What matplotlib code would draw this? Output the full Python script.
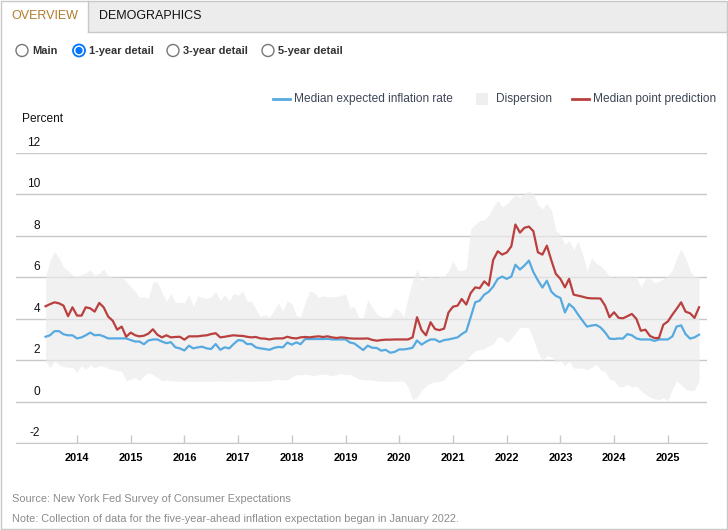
import matplotlib
matplotlib.use("Agg")
import matplotlib.pyplot as plt
from matplotlib.patches import Rectangle, Circle
from matplotlib.transforms import ScaledTranslation
import pandas as pd

plt.rcParams["font.family"] = ["Liberation Sans", "DejaVu Sans"]

# monthly survey dates, June 2013 - August 2025
dates = pd.date_range("2013-06-01", periods=147, freq="MS")

median_rate = [
    3.13, 3.2, 3.4, 3.4, 3.25, 3.2, 3.2, 3.05, 3.1, 3.2, 3.33, 3.2, 3.22, 3.15, 3.05, 3.05, 3.05, 3.05, 3.05,
    2.97, 2.9, 2.9, 2.77, 2.95, 3.0, 3.0, 2.9, 2.82, 2.87, 2.62, 2.57, 2.47, 2.7, 2.57, 2.62, 2.65, 2.57,
    2.54, 2.78, 2.5, 2.62, 2.57, 2.78, 2.97, 2.94, 2.78, 2.78, 2.62, 2.57, 2.54, 2.5, 2.59, 2.64, 2.62, 2.85,
    2.75, 2.86, 2.77, 3.02, 3.02, 3.02, 3.02, 3.02, 3.03, 3.0, 3.0, 3.0, 3.0, 2.85, 2.81, 2.65, 2.49, 2.7, 2.6,
    2.59, 2.46, 2.5, 2.36, 2.4, 2.52, 2.52, 2.55, 2.6, 2.95, 2.75, 2.89, 3.0, 3.0, 2.88, 2.97, 3.0, 3.05, 3.1,
    3.26, 3.39, 4.07, 4.79, 4.87, 5.16, 5.3, 5.55, 5.92, 6.03, 5.92, 6.03, 6.6, 6.37, 6.56, 6.8, 6.25, 5.85,
    5.5, 5.83, 5.3, 5.1, 5.0, 4.3, 4.71, 4.52, 4.2, 3.9, 3.62, 3.67, 3.7, 3.58, 3.34, 3.04, 3.02, 3.05, 3.04,
    3.26, 3.2, 3.05, 3.0, 3.0, 3.0, 2.93, 3.0, 3.0, 3.0, 3.15, 3.62, 3.68, 3.26, 3.04, 3.1, 3.23,
]

point_prediction = [
    4.6, 4.7, 4.79, 4.74, 4.63, 4.12, 4.55, 4.15, 4.15, 4.55, 4.5, 4.34, 4.76, 4.55, 4.1, 3.9, 3.47, 3.62, 3.13,
    3.33, 3.2, 3.15, 3.18, 3.28, 3.49, 3.23, 3.1, 3.2, 3.1, 3.12, 3.13, 2.99, 3.15, 3.15, 3.15, 3.18, 3.2,
    3.26, 3.3, 3.1, 3.13, 3.17, 3.2, 3.18, 3.17, 3.13, 3.1, 3.12, 3.05, 3.04, 3.0, 3.04, 3.05, 3.05, 3.13,
    3.07, 3.05, 3.1, 3.12, 3.1, 3.13, 3.15, 3.12, 3.15, 3.1, 3.07, 3.1, 3.08, 3.05, 3.04, 3.04, 3.04, 3.05, 2.98,
    2.94, 2.97, 2.99, 2.99, 3.0, 3.0, 3.0, 3.0, 3.1, 4.07, 3.45, 3.2, 3.83, 3.5, 3.45, 3.52, 4.3, 4.58, 4.63,
    4.95, 4.68, 5.24, 5.51, 5.47, 5.8, 5.6, 6.83, 7.25, 7.09, 7.19, 7.48, 8.54, 8.15, 8.38, 8.44, 8.22, 7.2,
    7.09, 7.52, 6.8, 6.16, 5.92, 5.51, 5.92, 5.16, 5.11, 5.06, 5.0, 4.98, 4.98, 4.97, 4.63, 4.07, 4.31, 4.04,
    4.02, 4.12, 4.23, 3.99, 3.42, 3.47, 3.17, 3.07, 3.07, 3.71, 3.87, 4.2, 4.47, 4.79, 4.34, 4.26, 4.04, 4.55,
]

dispersion_high = [
    6.0, 6.8, 7.25, 6.93, 6.48, 6.32, 6.1, 6.03, 6.13, 6.2, 6.35, 6.08, 6.2, 6.4, 6.06, 6.0, 6.0, 6.0, 5.79,
    5.55, 5.32, 5.03, 5.06, 4.98, 5.77, 5.77, 5.27, 4.84, 5.22, 4.79, 4.79, 4.76, 5.16, 4.58, 5.1, 5.03, 4.98,
    5.06, 5.32, 4.87, 5.16, 4.87, 5.22, 5.14, 5.35, 4.84, 4.84, 4.47, 4.1, 4.2, 4.07, 4.39, 4.76, 4.39, 4.87,
    4.71, 4.15, 4.07, 4.79, 5.32, 5.26, 5.02, 5.1, 5.06, 5.06, 5.06, 5.13, 5.18, 4.52, 4.6, 4.07, 4.04, 4.92, 4.55,
    4.23, 4.1, 4.07, 4.1, 4.52, 4.39, 4.1, 5.03, 5.83, 6.4, 5.83, 6.0, 6.03, 6.0, 6.03, 6.03, 6.32, 6.8, 6.35,
    6.32, 6.4, 8.33, 8.54, 8.73, 8.76, 8.97, 9.4, 9.69, 9.4, 9.53, 9.77, 9.98, 9.85, 10.05, 10.14, 10.02, 9.5,
    9.29, 9.56, 9.24, 8.25, 8.05, 7.57, 7.77, 7.31, 7.73, 7.12, 6.32, 6.93, 6.67, 6.56, 6.32, 6.03, 6.0, 6.03,
    6.08, 6.07, 6.0, 6.03, 5.51, 5.92, 5.96, 5.75, 5.8, 5.92, 6.08, 6.35, 6.93, 7.35, 6.93, 6.32, 6.03, 6.03,
]

dispersion_low = [
    1.98, 1.6, 1.98, 1.78, 1.69, 1.66, 1.66, 1.41, 1.75, 1.56, 1.78, 1.62, 1.74, 1.7, 1.6, 1.56, 1.5, 1.46, 1.0,
    1.09, 1.17, 1.0, 1.25, 1.4, 1.3, 1.17, 1.0, 1.05, 1.0, 1.0, 0.98, 0.98, 0.98, 0.97, 0.98, 0.98, 0.98,
    0.98, 0.98, 1.0, 0.98, 0.98, 0.98, 1.0, 0.98, 0.98, 0.98, 0.98, 1.0, 1.0, 1.0, 1.05, 1.08, 1.05, 1.05,
    1.2, 1.3, 1.3, 1.32, 1.3, 1.25, 1.3, 1.33, 1.3, 1.25, 1.3, 1.37, 1.3, 1.32, 1.2, 1.1, 1.05, 1.05, 1.05,
    1.0, 0.98, 0.98, 0.98, 0.98, 1.0, 1.0, 0.7, 0.1, 0.2, 0.55, 0.75, 0.9, 0.95, 0.98, 1.05, 1.33, 1.5, 1.62,
    1.8, 2.0, 2.25, 2.45, 2.52, 2.55, 2.7, 2.78, 3.1, 3.1, 2.86, 3.05, 3.3, 3.58, 3.58, 3.55, 3.0, 2.4,
    1.98, 2.22, 2.17, 1.9, 1.98, 1.74, 1.95, 1.62, 1.62, 1.62, 1.53, 1.66, 1.82, 1.53, 1.45, 1.09, 1.01, 0.72,
    0.72, 0.85, 0.69, 0.77, 0.53, 0.37, 0.21, 0.14, 0.1, 0.18, 0.05, 0.61, 1.01, 0.82, 0.61, 0.53, 0.56, 1.01,
]

years = list(range(2014, 2026))
y_ticks = list(range(-2, 13, 2))
radio_labels = ["Main", "1-year detail", "3-year detail", "5-year detail"]

blue = "#56aae0"
red = "#b9403f"
W, H = 728, 530

fig = plt.figure(figsize=(W / 100, H / 100), dpi=100)

# decoration layer in pixel coordinates
bg = fig.add_axes([0, 0, 1, 1])
bg.set_xlim(0, W)
bg.set_ylim(H, 0)
bg.axis("off")

bg.add_patch(Rectangle((88, 1), W - 89, 31, facecolor="#ececec", edgecolor="none"))
bg.plot([88, W - 1], [32, 32], color="#c8c8c8", lw=1)
bg.plot([88, 88], [1, 32], color="#c8c8c8", lw=1)
bg.add_patch(Rectangle((0.5, 0.5), W - 1.5, H - 2, facecolor="none", edgecolor="#c8c8c8", lw=1))
bg.text(11, 16, "OVERVIEW", fontsize=9, color="#b27b2c", va="center")
bg.text(99, 16, "DEMOGRAPHICS", fontsize=9, color="#111111", va="center")

radio_x = [22, 79, 173, 268]
for i, (cx, lab) in enumerate(zip(radio_x, radio_labels)):
    if i == 1:
        bg.add_patch(Circle((cx, 50.5), 6, facecolor="white", edgecolor="#0075ff", lw=1.3))
        bg.add_patch(Circle((cx, 50.5), 3.6, facecolor="#0075ff", edgecolor="none"))
    else:
        bg.add_patch(Circle((cx, 50.5), 6, facecolor="white", edgecolor="#777777", lw=1))
    bg.text(cx + 10, 51, lab, fontsize=7.9, fontweight="bold", color="#333333", va="center")

# legend
leg_color = "#3e4655"
bg.plot([273, 290], [99, 99], color=blue, lw=2)
bg.text(294, 99, "Median expected inflation rate", fontsize=8.6, color=leg_color, va="center")
bg.add_patch(Rectangle((476, 93), 12, 12, facecolor="#efefef", edgecolor="none"))
bg.text(496, 99, "Dispersion", fontsize=8.6, color=leg_color, va="center")
bg.plot([572, 589], [99, 99], color=red, lw=2)
bg.text(593, 99, "Median point prediction", fontsize=8.6, color=leg_color, va="center")

bg.text(22, 119, "Percent", fontsize=8.6, color="#111111", va="center")
bg.text(12, 499, "Source: New York Fed Survey of Consumer Expectations", fontsize=7.9,
        color="#8c8c8c", va="center")
bg.text(12, 519.5, "Note: Collection of data for the five-year-ahead inflation expectation began in January 2022.",
        fontsize=7.9, color="#8c8c8c", va="center")

# main chart
left, right, top, bottom = 16, 707, 152.7, 443.2
ax = fig.add_axes([left / W, (H - bottom) / H, (right - left) / W, (bottom - top) / H])
ax.patch.set_alpha(0)

ax.fill_between(dates, dispersion_low, dispersion_high, color="#ebebeb", alpha=0.68, lw=0, zorder=1)
ax.plot(dates, median_rate, color=blue, lw=1.6, zorder=3)
ax.plot(dates, point_prediction, color=red, lw=1.6, zorder=4)

ax.set_ylim(-2, 12)
ax.set_xlim(pd.Timestamp("2012-11-12"), pd.Timestamp("2025-09-24"))
ax.set_yticks(y_ticks)
ax.set_yticklabels([])
ax.tick_params(axis="y", length=0)
ax.grid(axis="y", color="#c8c8c8", lw=1)
ax.set_axisbelow(True)

ax.set_xticks([pd.Timestamp(f"{y}-01-01") for y in years])
ax.set_xticklabels([str(y) for y in years], fontsize=7.9, fontweight="bold")
ax.tick_params(axis="x", direction="in", length=6, width=1, color="#c8c8c8", pad=7)

for s in ["top", "left", "right"]:
    ax.spines[s].set_visible(False)
ax.spines["bottom"].set_color("#c8c8c8")

lab_tr = ax.get_yaxis_transform() + ScaledTranslation(0, 0.1, fig.dpi_scale_trans)
for v in y_ticks:
    ax.text((40 - left) / (right - left), v, str(v), transform=lab_tr, ha="right", va="center",
            fontsize=8.6, color="#111111")

fig.savefig("out.png", dpi=100)
